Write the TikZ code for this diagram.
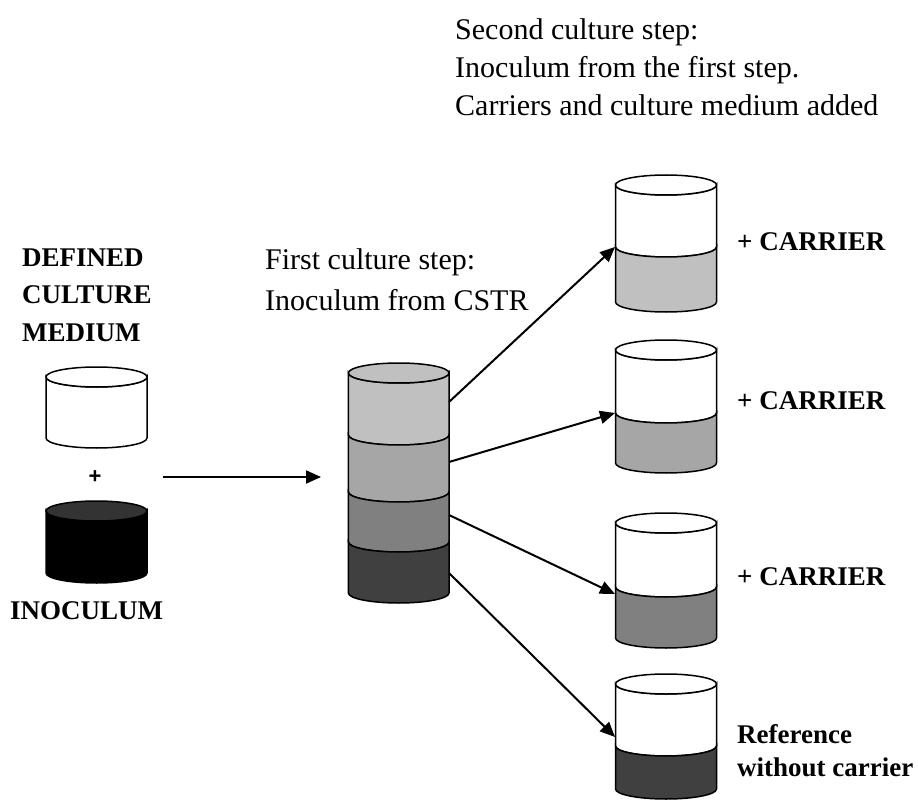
\documentclass[tikz,border=0pt]{standalone}
\usepackage{fontspec}
\setmainfont{Liberation Serif}
\newfontfamily\arialfont{Liberation Sans}
\usetikzlibrary{arrows.meta}
\definecolor{gA}{HTML}{C0C0C0}
\definecolor{gB}{HTML}{A6A6A6}
\definecolor{gC}{HTML}{808080}
\definecolor{gD}{HTML}{404040}
\definecolor{lidD}{HTML}{333333}
\tikzset{
  cylline/.style={draw=black, line width=1.5pt},
  conn/.style={line width=2pt, -{Triangle[length=15pt,width=13pt]}},
  regtext/.style={anchor=base west, inner sep=0pt, font=\fontsize{30}{36}\selectfont},
  boldtext/.style={anchor=base west, inner sep=0pt, font=\fontsize{27}{32}\selectfont\bfseries},
}
\newcommand\cyllayer[5]{\filldraw[cylline, fill=#5] ({#1-#2},#3) -- ({#1-#2},#4) arc[start angle=180,end angle=360,x radius=#2pt,y radius=10pt] -- ({#1+#2},#3) arc[start angle=0,end angle=-180,x radius=#2pt,y radius=10pt] -- cycle;}
\newcommand\cyllid[4]{\filldraw[cylline, fill=#4] (#1,#3) ellipse[x radius=#2pt,y radius=10pt];}
\begin{document}
\begin{tikzpicture}[x=1pt, y=-1pt]
\useasboundingbox (0,0) rectangle (918,802);
\fill[white] (0,0) rectangle (918,802);

% top texts
\node[regtext] (s1) at (455,40) {Second culture step:};
\node[regtext] (s2) at (455,78) {Inoculum from the first step.};
\node[regtext] (s3) at (455,116) {Carriers and culture medium added};
\node[regtext] (f1) at (265,270) {First culture step:};
\node[regtext] (f2) at (265,310) {Inoculum from CSTR};

% left labels
\node[boldtext] (d1) at (22,267) {DEFINED};
\node[boldtext] (d2) at (22,304) {CULTURE};
\node[boldtext] (d3) at (22,341) {MEDIUM};
\node[boldtext] (ino) at (10,619) {INOCULUM};
\node[inner sep=0pt, font=\arialfont\bfseries\fontsize{22}{26}\selectfont] (plus) at (95,477) {+};

% left cylinders
\cyllayer{96.5}{50.5}{377}{438}{white}
\cyllid{96.5}{50.5}{377}{white}
\cyllayer{96.5}{50.5}{511}{573}{black}
\cyllid{96.5}{50.5}{511}{lidD}

% middle stack
\cyllayer{398.7}{50.3}{373}{435}{gA}
\cyllayer{398.7}{50.3}{435}{492}{gB}
\cyllayer{398.7}{50.3}{492}{542}{gC}
\cyllayer{398.7}{50.3}{542}{593}{gD}
\cyllid{398.7}{50.3}{373}{gA}

% right cylinders
\cyllayer{666}{50.5}{185}{247}{white}
\cyllayer{666}{50.5}{247}{302}{gA}
\cyllid{666}{50.5}{185}{white}
\cyllayer{666}{50.5}{350}{413}{white}
\cyllayer{666}{50.5}{413}{463}{gB}
\cyllid{666}{50.5}{350}{white}
\cyllayer{666}{50.5}{523}{587}{white}
\cyllayer{666}{50.5}{587}{638}{gC}
\cyllid{666}{50.5}{523}{white}
\cyllayer{666}{50.5}{684}{746}{white}
\cyllayer{666}{50.5}{746}{789}{gD}
\cyllid{666}{50.5}{684}{white}

% right labels
\node[boldtext] (c1) at (737,251) {+ CARRIER};
\node[boldtext] (c2) at (737,409) {+ CARRIER};
\node[boldtext] (c3) at (737,585) {+ CARRIER};
\node[boldtext] (ref1) at (737,743) {Reference};
\node[boldtext] (ref2) at (737,776) {without carrier};

% connector end points
\coordinate (hs) at (163,477);
\coordinate (he) at (321,477);
\coordinate (m1) at (449,402);
\coordinate (m2) at (449,462);
\coordinate (m3) at (449,515);
\coordinate (m4) at (449,573);
\coordinate (r1) at (615,247);
\coordinate (r2) at (615,413);
\coordinate (r3) at (615,594);
\coordinate (r4) at (615,737);

\draw[conn] (hs) -- (he);
\draw[conn] (m1) -- (r1);
\draw[conn] (m2) -- (r2);
\draw[conn] (m3) -- (r3);
\draw[conn] (m4) -- (r4);
\end{tikzpicture}
\end{document}
